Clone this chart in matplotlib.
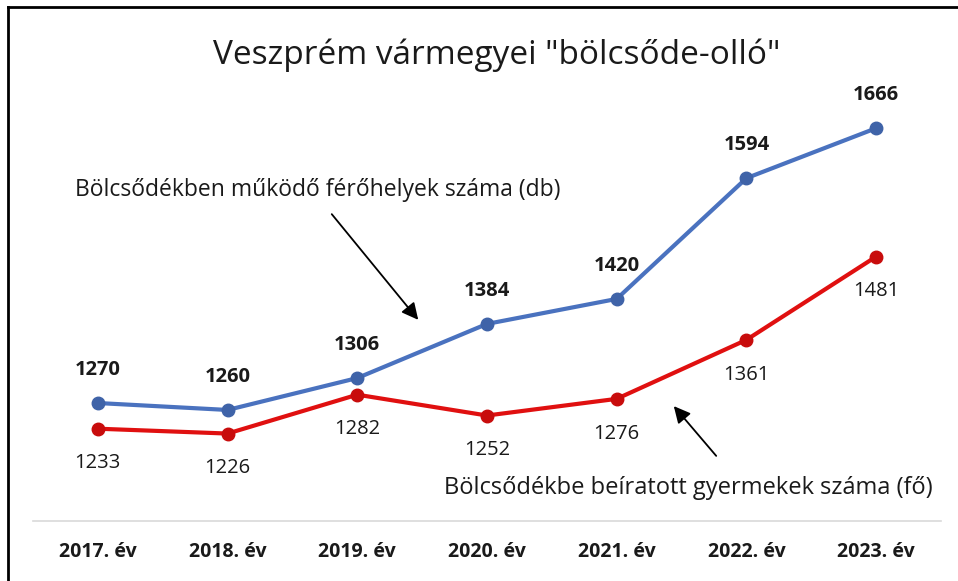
import matplotlib
matplotlib.use("Agg")
import matplotlib.pyplot as plt
from matplotlib.lines import Line2D

plt.rcParams['font.family'] = ['Open Sans', 'DejaVu Sans']

categories = ["2017. év", "2018. év", "2019. év", "2020. év", "2021. év", "2022. év", "2023. év"]
ferohelyek = [1270, 1260, 1306, 1384, 1420, 1594, 1666]
beiratott = [1233, 1226, 1282, 1252, 1276, 1361, 1481]

title = 'Veszprém vármegyei "bölcsőde-olló"'
label_blue = "Bölcsődékben működő férőhelyek száma (db)"
label_red = "Bölcsődékbe beíratott gyermekek száma (fő)"

blue = "#4a72bf"
red = "#e01010"

fig = plt.figure(figsize=(9.58, 5.81), dpi=100)
ax = fig.add_axes([33/958, 1-521/581, (941-33)/958, (521-104.6)/581])
x = list(range(len(categories)))

ax.plot(x, ferohelyek, color=blue, lw=3, marker='o', ms=9,
        mfc="#3f63a8", mec="#3f63a8", solid_capstyle='round', zorder=3)
ax.plot(x, beiratott, color=red, lw=3, marker='o', ms=9,
        mfc="#c80c0c", mec="#c80c0c", solid_capstyle='round', zorder=3)

for xi, v in zip(x, ferohelyek):
    ax.annotate(str(v), (xi, v), xytext=(0, 24), textcoords='offset points',
                ha='center', va='center', fontsize=14.5, fontweight='bold', color='#1a1a1a')
for xi, v in zip(x, beiratott):
    ax.annotate(str(v), (xi, v), xytext=(0, -25), textcoords='offset points',
                ha='center', va='center', fontsize=14.5, color='#1a1a1a')

ax.set_xlim(-0.5, len(categories) - 0.5)
ax.set_ylim(1100, 1700)
ax.set_yticks([])
ax.set_xticks(x)
ax.set_xticklabels(categories, fontsize=14, fontweight='bold', color='#1a1a1a')
ax.tick_params(axis='x', length=0, pad=15)
for s in ['top', 'right', 'left']:
    ax.spines[s].set_visible(False)
ax.spines['bottom'].set_color('#d9d9d9')
ax.spines['bottom'].set_linewidth(1.2)

fig.text(497/958, 1-55/581, title, ha='center', va='center', fontsize=24, color='#1a1a1a')

fig.text(75/958, 1-190/581, label_blue, ha='left', va='center', fontsize=16.5, color='#1a1a1a')
fig.text(933/958, 1-488/581, label_red, ha='right', va='center', fontsize=17, color='#1a1a1a')

fig.add_artist(matplotlib.patches.FancyArrowPatch(
    (330/958, 1-212/581), (420/958, 1-322/581), transform=fig.transFigure,
    arrowstyle='-|>,head_length=10,head_width=5', color='black', lw=1.3))
fig.add_artist(matplotlib.patches.FancyArrowPatch(
    (718/958, 1-458/581), (672/958, 1-404/581), transform=fig.transFigure,
    arrowstyle='-|>,head_length=10,head_width=5', color='black', lw=1.3))

# frame (left and top edges)
fig.add_artist(Line2D([8/958, 8/958], [0, 1-7/581], transform=fig.transFigure, color='black', lw=2))
fig.add_artist(Line2D([8/958, 1], [1-7/581, 1-7/581], transform=fig.transFigure, color='black', lw=2))

fig.savefig("out.png", dpi=100)
